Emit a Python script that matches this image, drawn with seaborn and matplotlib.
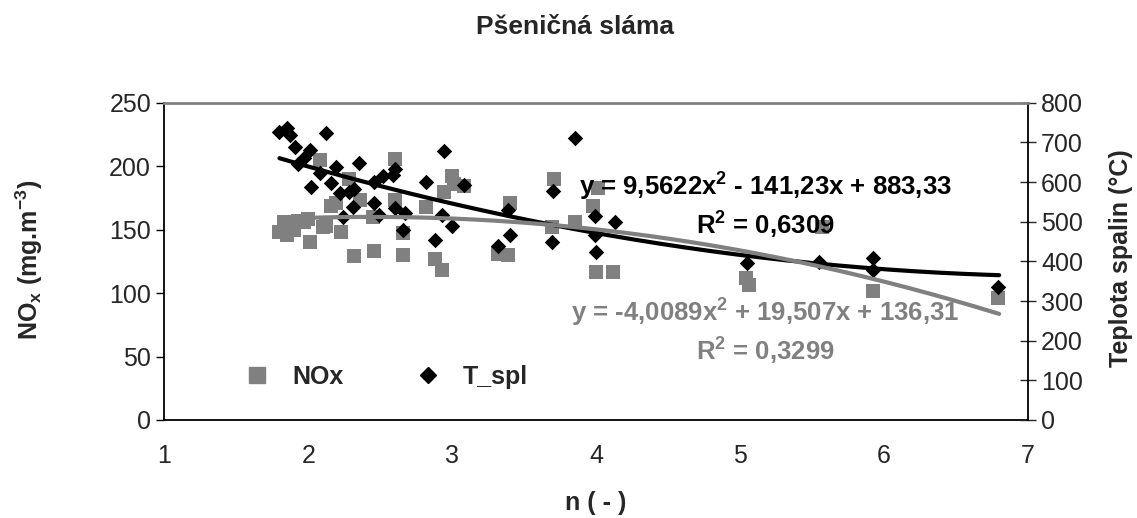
import numpy as np
import matplotlib
matplotlib.use("Agg")
import matplotlib.pyplot as plt
from matplotlib.lines import Line2D
import seaborn as sns

# NOx body (n, mg/m3)
n_nox = [1.80, 1.83, 1.85, 1.87, 1.90, 1.93, 1.97, 2.00, 2.01, 2.08, 2.10, 2.12,
         2.16, 2.19, 2.23, 2.28, 2.32, 2.36, 2.45, 2.46, 2.60, 2.60, 2.66, 2.66,
         2.82, 2.88, 2.93, 2.94, 3.00, 3.01, 3.08, 3.32, 3.39, 3.40, 3.69, 3.71,
         3.85, 3.98, 4.01, 4.00, 4.12, 5.04, 5.06, 5.57, 5.92, 6.79]
nox = [148, 156, 146, 152, 150, 157, 156, 158, 140, 205, 152, 153,
       169, 171, 148, 190, 129, 173, 160, 133, 206, 173, 147, 130,
       168, 127, 118, 180, 192, 186, 184, 131, 130, 171, 152, 190,
       156, 169, 183, 117, 117, 112, 106, 152, 102, 96]

# teplota spalin (n, degC)
n_tspl = [1.80, 1.85, 1.87, 1.91, 1.93, 1.97, 2.01, 2.02, 2.08, 2.12, 2.16, 2.19,
          2.22, 2.24, 2.28, 2.31, 2.32, 2.35, 2.46, 2.46, 2.49, 2.52, 2.59, 2.60,
          2.60, 2.66, 2.67, 2.82, 2.88, 2.93, 2.94, 3.00, 3.08, 3.32, 3.39, 3.40,
          3.69, 3.70, 3.85, 3.99, 3.99, 4.00, 4.13, 5.05, 5.55, 5.92, 5.92, 6.79]
tspl = [727, 735, 718, 689, 645, 660, 681, 587, 622, 724, 598, 639,
        572, 513, 576, 538, 582, 647, 601, 546, 517, 615, 618, 632,
        534, 479, 521, 601, 454, 517, 679, 489, 592, 439, 529, 466,
        450, 578, 710, 514, 466, 424, 500, 395, 398, 408, 378, 336]

# polynomialni trendy z grafu (a, b, c)
coef_nox = [-4.0089, 19.507, 136.31]
coef_tspl = [9.5622, -141.23, 883.33]
trend_start, trend_end = 1.8, 6.8

sns.set_style("white")
plt.rcParams['font.family'] = ['Liberation Sans', 'DejaVu Sans']
plt.rcParams['mathtext.fontset'] = 'custom'
plt.rcParams['mathtext.rm'] = 'Liberation Sans:bold'
plt.rcParams['mathtext.default'] = 'rm'

seda = '#808080'

fig = plt.figure(figsize=(11.37, 5.18), dpi=100)
ax = fig.add_axes([0.1445, 0.1892, 0.7596, 0.6125])
ax2 = ax.twinx()

sns.scatterplot(x=n_nox, y=nox, ax=ax, marker='s', s=105, color=seda,
                edgecolor=seda, linewidth=0, legend=False)
sns.scatterplot(x=n_tspl, y=tspl, ax=ax2, marker='D', s=62, color='black',
                edgecolor='black', linewidth=0, legend=False)

xt = np.linspace(trend_start, trend_end, 200)
ax2.plot(xt, np.polyval(coef_tspl, xt), color='black', lw=3, solid_capstyle='round')
# sedy trend patri k leve ose, ale kresli se nahoru
ax2.plot(xt, np.polyval(coef_nox, xt), color=seda, lw=3, solid_capstyle='round',
         transform=ax.transData)

ax.set_xlim(1, 7)
ax.set_ylim(0, 250)
ax2.set_ylim(0, 800)
ax.set_xticks(range(1, 8))
ax.set_yticks(range(0, 251, 50))
ax2.set_yticks(range(0, 801, 100))

ax.tick_params(axis='both', labelsize=18, length=6, width=1, direction='out', color='black')
ax.tick_params(axis='x', pad=11)
ax2.tick_params(axis='y', labelsize=18, length=11, width=1, direction='inout', pad=4)

for s in ['left', 'bottom']:
    ax.spines[s].set_color('black')
    ax.spines[s].set_linewidth(1.3)
ax.spines['right'].set_visible(False)
ax.spines['top'].set_visible(False)
ax2.spines['left'].set_visible(False)
ax2.spines['bottom'].set_visible(False)
ax2.spines['right'].set_color('black')
ax2.spines['right'].set_linewidth(1.3)
ax2.spines['top'].set_color(seda)
ax2.spines['top'].set_linewidth(2)

ax.set_xlabel('n ( - )', fontsize=18, fontweight='bold')
ax.xaxis.set_label_coords(0.5, -0.262)
ax.xaxis.label.set_va('center')
ax.set_ylabel(r'NO$_x$ (mg.m$^{-3}$)', fontsize=18, fontweight='bold')
ax.yaxis.set_label_coords(-0.156, 0.503)
ax.yaxis.label.set_va('center')
ax2.set_ylabel('Teplota spalin (°C)', fontsize=18, fontweight='bold')
ax2.yaxis.set_label_coords(1.108, 0.51)
ax2.yaxis.label.set_va('center')

fig.text(0.5057, 0.948, 'Pšeničná sláma', ha='center', va='center',
         fontsize=19, fontweight='bold')

# rovnice trendu
ax2.text(0.696, 0.735, 'y = 9,5622x$^2$ - 141,23x + 883,33', transform=ax.transAxes,
         ha='center', va='center', fontsize=18.5, fontweight='bold', color='black')
ax2.text(0.696, 0.6146, 'R$^2$ = 0,6309', transform=ax.transAxes,
         ha='center', va='center', fontsize=18.5, fontweight='bold', color='black')
ax2.text(0.696, 0.337, 'y = -4,0089x$^2$ + 19,507x + 136,31', transform=ax.transAxes,
         ha='center', va='center', fontsize=18.5, fontweight='bold', color=seda)
ax2.text(0.696, 0.215, 'R$^2$ = 0,3299', transform=ax.transAxes,
         ha='center', va='center', fontsize=18.5, fontweight='bold', color=seda)

handles = [Line2D([], [], marker='s', ls='', color=seda, markersize=11),
           Line2D([], [], marker='D', ls='', color='black', markersize=8)]
leg = ax2.legend(handles, ['NOx', 'T_spl'], loc='center left',
                 bbox_to_anchor=(0.0928, 0.1365), bbox_transform=ax.transAxes,
                 ncol=2, frameon=False, handlelength=1,
                 handletextpad=0.9, columnspacing=2.9, borderpad=0, borderaxespad=0,
                 prop={'weight': 'bold', 'size': 18})

fig.savefig('out.png', dpi=100)
